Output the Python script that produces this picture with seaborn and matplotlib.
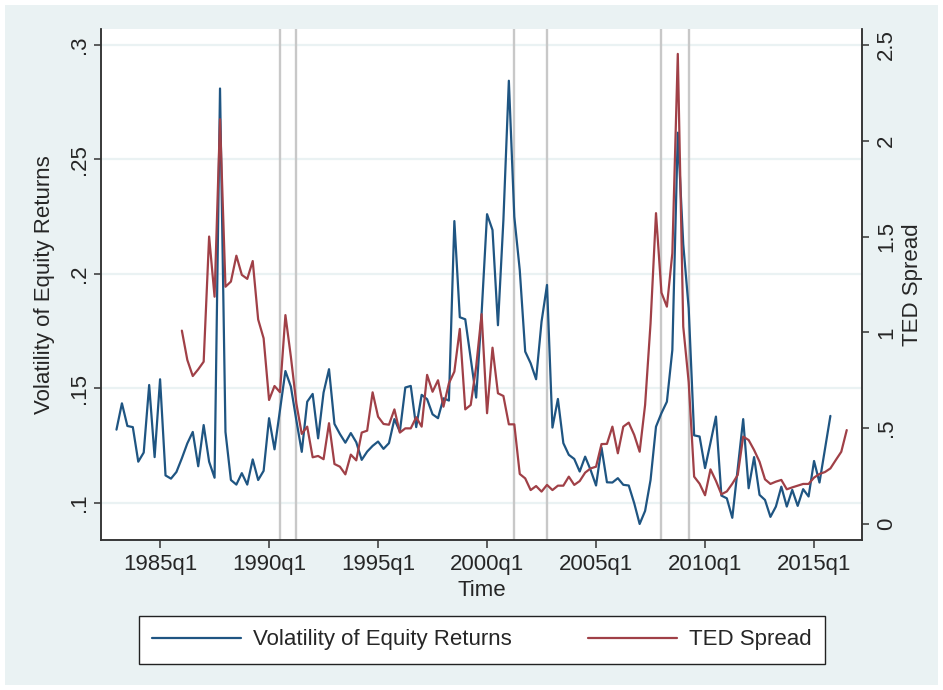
import matplotlib
matplotlib.use('Agg')
import numpy as np
import pandas as pd
import matplotlib.pyplot as plt
import seaborn as sns

# quarterly series
vol_start = "1983q1"
vol = [
    0.132, 0.1435, 0.1336, 0.1331, 0.118, 0.122, 0.1515, 0.120,      # 1983-84
    0.154, 0.112, 0.1106, 0.1135, 0.1195, 0.126, 0.131, 0.116,       # 1985-86
    0.134, 0.118, 0.111, 0.281, 0.131, 0.110, 0.108, 0.113,          # 1987-88
    0.108, 0.119, 0.110, 0.114, 0.137, 0.1234, 0.1406, 0.1576,       # 1989-90
    0.1508, 0.1362, 0.1223, 0.1442, 0.1476, 0.1282, 0.1482, 0.1584,  # 1991-92
    0.1345, 0.1301, 0.1263, 0.1305, 0.1265, 0.1188, 0.1224, 0.1249,  # 1993-94
    0.1268, 0.1236, 0.1261, 0.1366, 0.1311, 0.1504, 0.1511, 0.1331,  # 1995-96
    0.1472, 0.1453, 0.1387, 0.137, 0.1457, 0.1447, 0.2231, 0.1811,   # 1997-98
    0.1802, 0.1632, 0.146, 0.1828, 0.2261, 0.2192, 0.1776, 0.2236,   # 1999-00
    0.2844, 0.225, 0.2017, 0.1661, 0.161, 0.154, 0.1792, 0.1952,     # 2001-02
    0.1329, 0.1454, 0.1261, 0.121, 0.1192, 0.1137, 0.1202, 0.1144,   # 2003-04
    0.1076, 0.1242, 0.109, 0.1089, 0.1108, 0.1079, 0.1076, 0.0999,   # 2005-06
    0.0908, 0.0965, 0.110, 0.1333, 0.1392, 0.1442, 0.1668, 0.2617,   # 2007-08
    0.213, 0.185, 0.1295, 0.129, 0.1152, 0.1263, 0.1377, 0.1032,     # 2009-10
    0.102, 0.0935, 0.115, 0.1366, 0.1064, 0.120, 0.1035, 0.1013,     # 2011-12
    0.0939, 0.0984, 0.1071, 0.0984, 0.1057, 0.0987, 0.106, 0.1028,   # 2013-14
    0.1183, 0.1089, 0.1234, 0.138,                                   # 2015
]

ted_start = "1986q1"
ted = [
    1.009, 0.856, 0.772, 0.807,   # 1986
    0.847, 1.50, 1.186, 2.112,    # 1987
    1.238, 1.265, 1.40, 1.30,     # 1988
    1.279, 1.372, 1.067, 0.969,   # 1989
    0.647, 0.72, 0.688, 1.09,     # 1990
    0.873, 0.63, 0.47, 0.508,     # 1991
    0.348, 0.355, 0.338, 0.526,   # 1992
    0.313, 0.299, 0.259, 0.362,   # 1993
    0.332, 0.477, 0.487, 0.687,   # 1994
    0.56, 0.522, 0.518, 0.598,    # 1995
    0.477, 0.499, 0.499, 0.557,   # 1996
    0.508, 0.778, 0.69, 0.75,     # 1997
    0.612, 0.734, 0.795, 1.018,   # 1998
    0.598, 0.621, 0.821, 1.095,   # 1999
    0.578, 0.92, 0.682, 0.668,    # 2000
    0.52, 0.52, 0.261, 0.238,     # 2001
    0.177, 0.198, 0.169, 0.204,   # 2002
    0.177, 0.20, 0.20, 0.247,     # 2003
    0.204, 0.224, 0.268, 0.29,    # 2004
    0.299, 0.417, 0.418, 0.508,   # 2005
    0.369, 0.508, 0.529, 0.465,   # 2006
    0.377, 0.621, 1.047, 1.622,   # 2007
    1.207, 1.134, 1.413, 2.453,   # 2008
    1.03, 0.74, 0.247, 0.21,      # 2009
    0.15, 0.285, 0.225, 0.155,    # 2010
    0.17, 0.21, 0.256, 0.456,     # 2011
    0.438, 0.386, 0.325, 0.233,   # 2012
    0.209, 0.221, 0.23, 0.181,    # 2013
    0.191, 0.20, 0.209, 0.209,    # 2014
    0.242, 0.261, 0.271, 0.29,    # 2015
    0.334, 0.377, 0.49,           # 2016
]

recessions = ["1990q3", "1991q2", "2001q2", "2002q4", "2008q1", "2009q2"]
tick_years = [1985, 1990, 1995, 2000, 2005, 2010, 2015]
vol_ticks = [0.1, 0.15, 0.2, 0.25, 0.3]
ted_ticks = [0, 0.5, 1, 1.5, 2, 2.5]


def qtime(s):
    y, q = s.split('q')
    return int(y) + (int(q) - 1) / 4


def stata_fmt(v):
    s = f"{v:g}"
    return s[1:] if s.startswith("0.") else s


vol_df = pd.DataFrame({'time': qtime(vol_start) + np.arange(len(vol)) / 4, 'value': vol})
ted_df = pd.DataFrame({'time': qtime(ted_start) + np.arange(len(ted)) / 4, 'value': ted})

BG = '#EAF2F3'
BLUE = '#1f5582'
RED = '#a04047'
FS = 16

sns.set_style('white')
plt.rcParams['font.family'] = ['Liberation Sans', 'DejaVu Sans']

fig = plt.figure(figsize=(9.43, 6.9), dpi=100)
fig.patch.set_facecolor(BG)
fig.patch.set_edgecolor('white')
fig.patch.set_linewidth(7)

ax = fig.add_axes([0.1071, 0.2174, 0.807, 0.7406])
ax.set_facecolor('white')
ax2 = ax.twinx()

for r in recessions:
    ax.axvline(qtime(r), color='#c8c8c8', lw=1.7, zorder=1)

sns.lineplot(data=vol_df, x='time', y='value', ax=ax, color=BLUE, lw=1.6,
             label='Volatility of Equity Returns', legend=False, zorder=3)
sns.lineplot(data=ted_df, x='time', y='value', ax=ax2, color=RED, lw=1.6,
             label='TED Spread', legend=False, zorder=3)

ax.set_xlim(1982.29, 2017.2)
ax.set_ylim(0.0838, 0.307)
ax2.set_ylim(-0.0835, 2.583)

ax.set_xticks(tick_years)
ax.set_xticklabels([f"{y}q1" for y in tick_years], fontsize=FS)
ax.set_yticks(vol_ticks)
ax.set_yticklabels([stata_fmt(v) for v in vol_ticks], fontsize=FS, rotation=90, va='center')
ax2.set_yticks(ted_ticks)
ax2.set_yticklabels([stata_fmt(v) for v in ted_ticks], fontsize=FS, rotation=90, va='center')

ax.grid(axis='y', color=BG, lw=1.6)
ax.grid(axis='x', visible=False)
ax.set_axisbelow(True)

for a in (ax, ax2):
    for side in ('left', 'right', 'bottom'):
        a.spines[side].set_color('#333333')
        a.spines[side].set_linewidth(1.1)
    a.spines['top'].set_visible(False)
ax.tick_params(axis='x', length=6, width=1.1, color='#333333', pad=4, bottom=True)
ax.tick_params(axis='y', length=5, width=1.1, color='#333333', pad=3, left=True)
ax2.tick_params(axis='y', length=5, width=1.1, color='#333333', pad=5, right=True)

ax.set_xlabel('Time', fontsize=FS)
ax.xaxis.set_label_coords(0.5, -0.078)
ax.set_ylabel('Volatility of Equity Returns', fontsize=FS)
ax.yaxis.set_label_coords(-0.061, 0.5)
ax2.set_ylabel('TED Spread', fontsize=FS)
ax2.yaxis.set_label_coords(1.053, 0.5)

h1, l1 = ax.get_legend_handles_labels()
h2, l2 = ax2.get_legend_handles_labels()
leg = fig.legend(h1 + h2, l1 + l2, loc='center', bbox_to_anchor=(0.511, 0.0725),
                 ncol=2, fontsize=FS, frameon=True, fancybox=False,
                 handlelength=4, handletextpad=0.55, columnspacing=3.4,
                 borderpad=0.62)
leg.get_frame().set_edgecolor('#222222')
leg.get_frame().set_linewidth(1.0)
leg.get_frame().set_facecolor('white')
leg.get_frame().set_alpha(1)

fig.savefig('out.png', dpi=100, facecolor=fig.get_facecolor(), edgecolor='white')
